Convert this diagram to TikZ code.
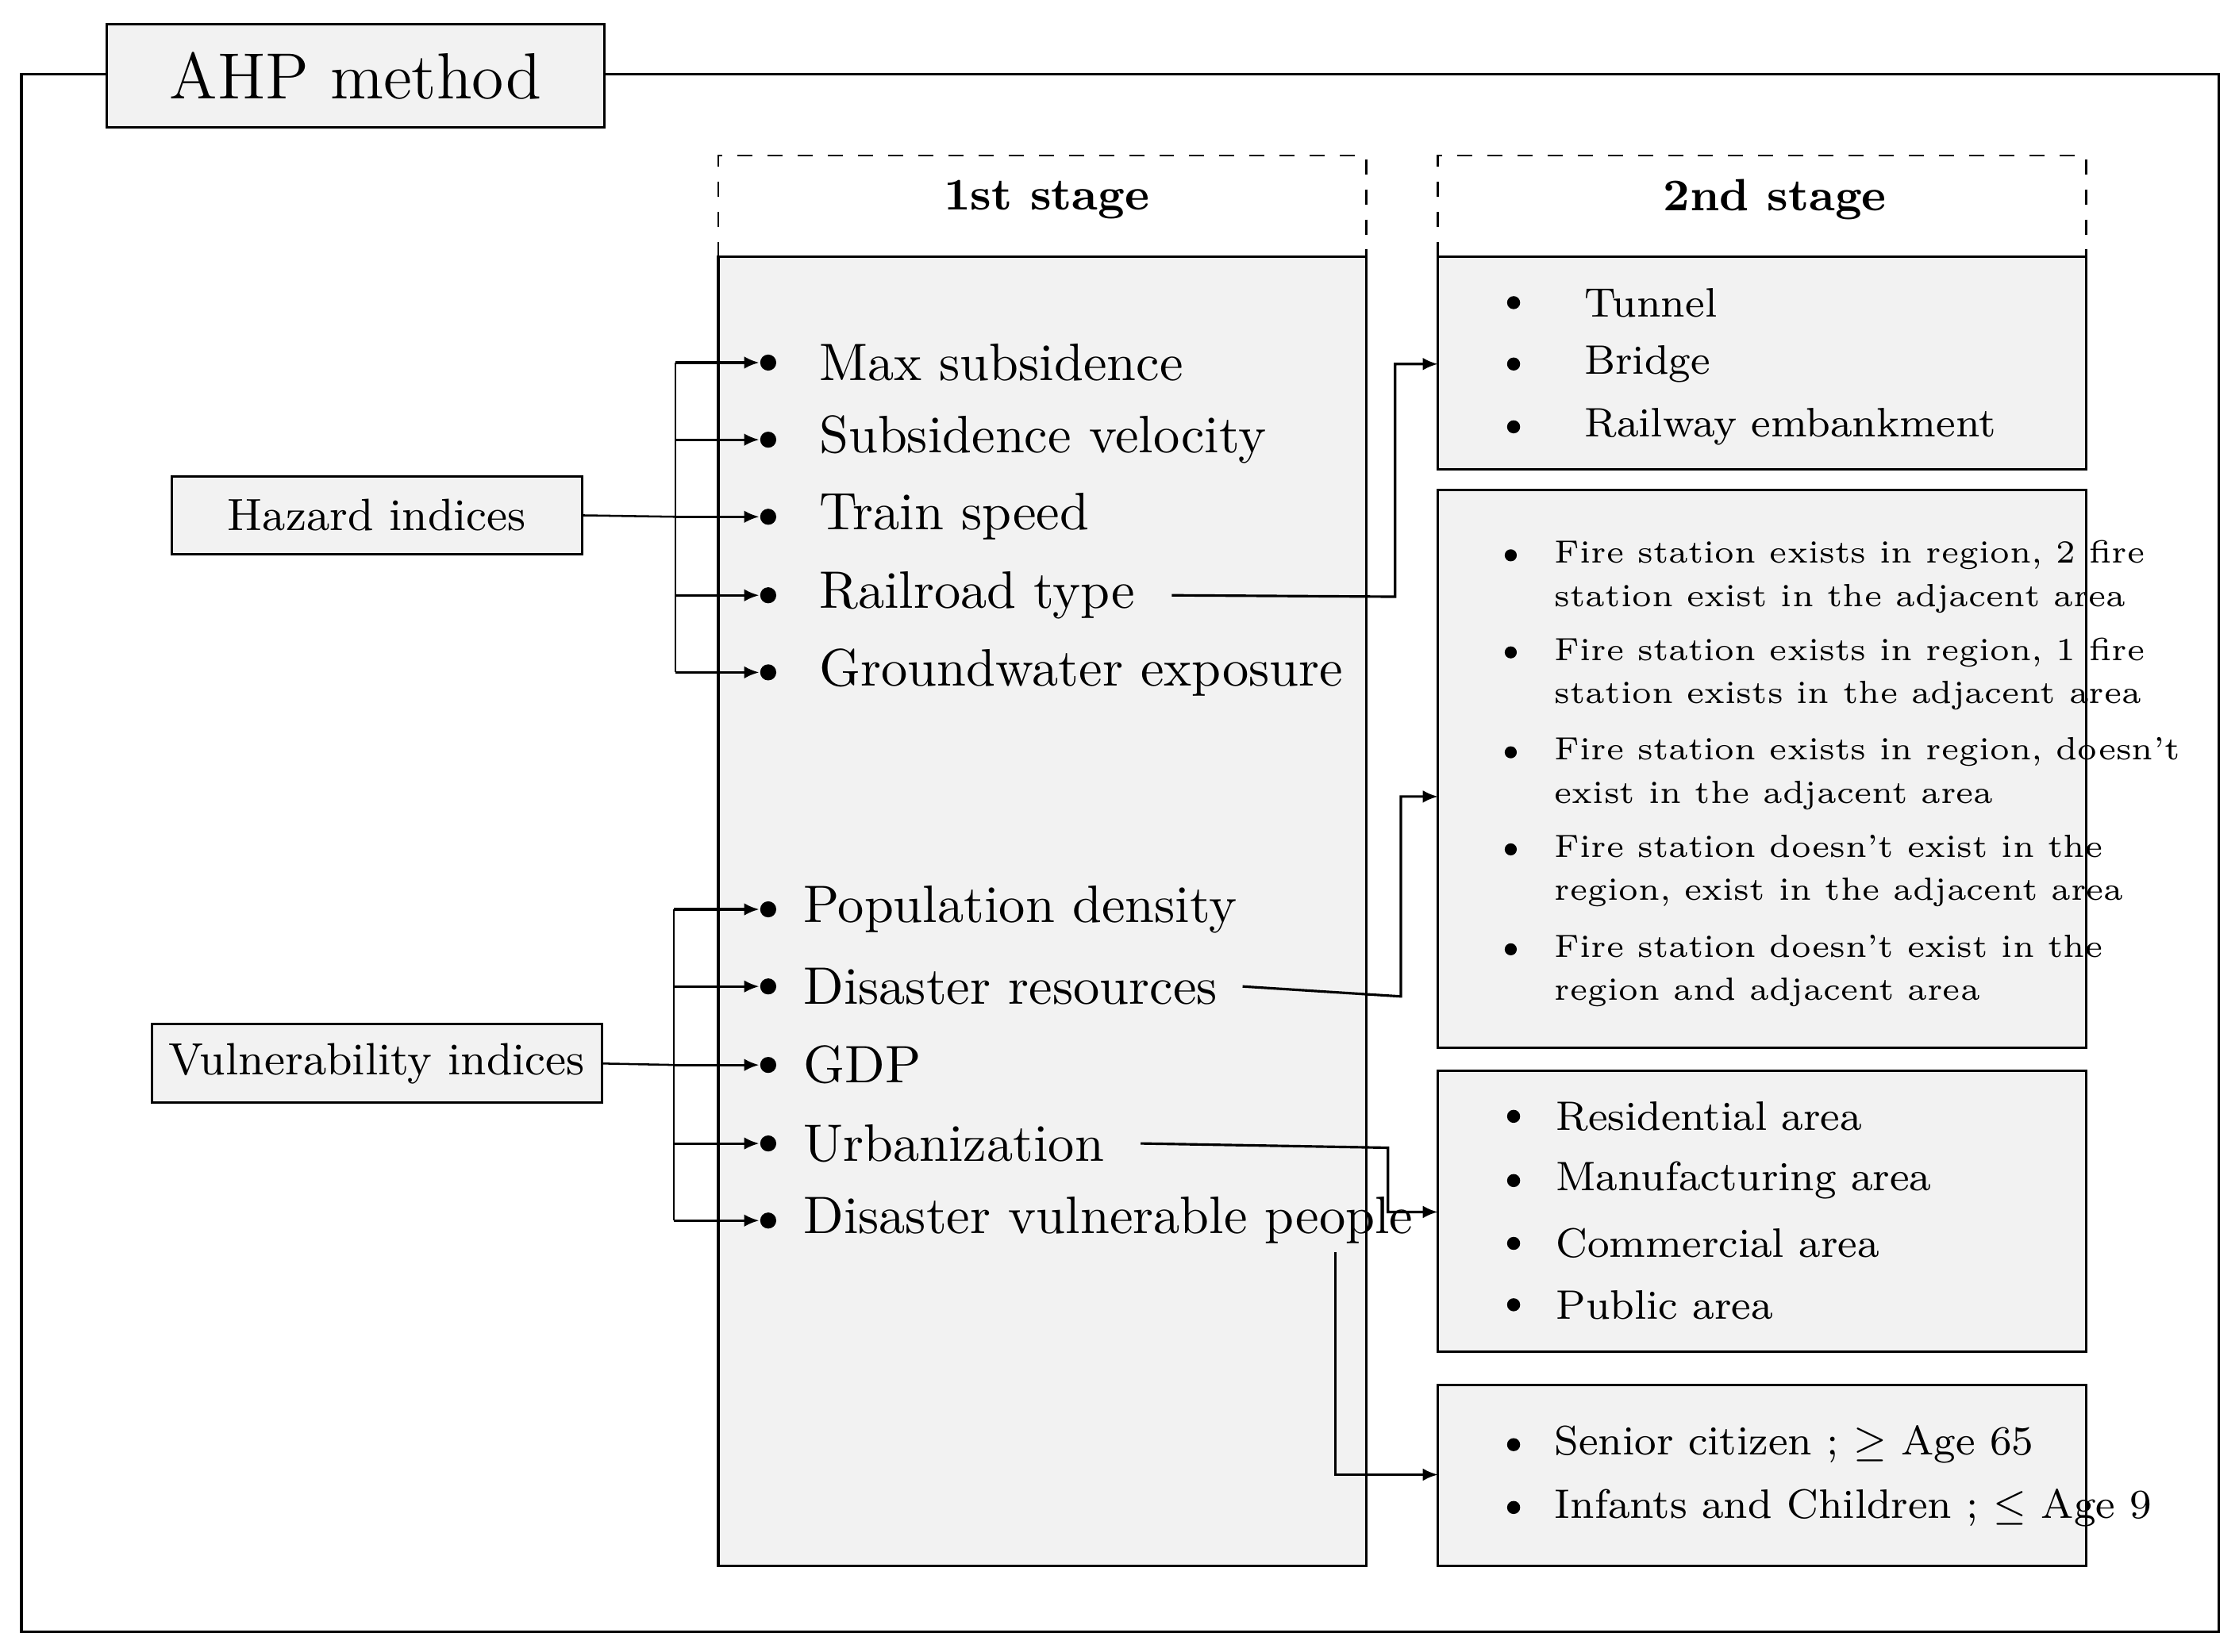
\documentclass[tikz,border=0pt]{standalone}
\usepackage{amssymb}
\usetikzlibrary{arrows.meta}
\definecolor{boxgray}{RGB}{242,242,242}
\tikzset{
  panel/.style={draw, fill=boxgray, line width=0.5pt},
  header/.style={draw, dashed, line width=0.4pt},
  dot/.style={circle, fill=black, inner sep=0pt, minimum size=3.2pt},
  item/.style={anchor=west, inner sep=0pt, font=\fontsize{10.5}{12}\selectfont},
  small/.style={anchor=west, inner sep=0pt, font=\fontsize{8.2}{10}\selectfont},
  tiny2/.style={anchor=west, inner sep=0pt, align=left, font=\fontsize{6.4}{8.6}\selectfont},
  link/.style={line width=0.5pt, -{Latex[length=3pt,width=2.5pt]}}
}
\begin{document}
\begin{tikzpicture}[x=0.01cm, y=-0.01cm]
\useasboundingbox (0,0) rectangle (1568,1157);
% Frame and title
\draw[line width=0.5pt] (423,52) -- (1554,52) -- (1554,1143) -- (15,1143) -- (15,52) -- (75,52);
\node[panel, minimum width=3.48cm, minimum height=0.72cm, font=\fontsize{13}{15}\selectfont] (title) at (249,53) {AHP method};

% Stage boxes
\draw[header] (503,180) -- (503,109) -- (957,109) -- (957,180);
\draw[header] (1007,180) -- (1007,109) -- (1461,109) -- (1461,180);
\node[font=\fontsize{9}{11}\selectfont\bfseries] (s1) at (733,140) {1st stage};
\node[font=\fontsize{9}{11}\selectfont\bfseries] (s2) at (1243,140) {2nd stage};
\draw[panel] (503,180) rectangle (957,1097);
\draw[panel] (1007,180) rectangle (1461,329);
\draw[panel] (1007,343) rectangle (1461,734);
\draw[panel] (1007,750) rectangle (1461,947);
\draw[panel] (1007,970) rectangle (1461,1097);

% Index boxes
\node[panel, minimum width=2.87cm, minimum height=0.54cm, font=\fontsize{9}{11}\selectfont] (haz) at (264,361) {Hazard indices};
\node[panel, minimum width=2.87cm, minimum height=0.55cm, font=\fontsize{9}{11}\selectfont] (vul) at (264,745) {Vulnerability indices};

% Hazard items
\foreach \y/\t/\n in {254/Max subsidence/h1, 308/Subsidence velocity/h2, 362/Train speed/h3, 417/Railroad type/h4, 471/Groundwater exposure/h5}{
  \node[dot] (\n) at (538,\y) {};
  \node[item] (\n t) at (573,\y) {\t};
  \coordinate (\n b) at (473,\y);
  \draw[link] (\n b) -- (\n);
}
\draw (h1b) -- (h5b);
\draw (haz.east) -- (h3b);

% Vulnerability items
\foreach \y/\t/\n in {637/Population density/v1, 691/Disaster resources/v2, 746/GDP/v3, 801/Urbanization/v4, 855/Disaster vulnerable people/v5}{
  \node[dot] (\n) at (538,\y) {};
  \node[item] (\n t) at (562,\y) {\t};
  \coordinate (\n b) at (472,\y);
  \draw[link] (\n b) -- (\n);
}
\draw (v1b) -- (v5b);
\draw (vul.east) -- (v3b);

% Second stage lists
\foreach \y/\t in {212/Tunnel, 255/Bridge, 299/Railway embankment}{
  \node[dot, minimum size=2.6pt] at (1060,\y) {};
  \node[small] at (1109,\y) {\t};
}
\foreach \y/\t in {404/{Fire station exists in region, 2 fire\\station exist in the adjacent area},
                   472/{Fire station exists in region, 1 fire\\station exists in the adjacent area},
                   542/{Fire station exists in region, doesn't\\exist in the adjacent area},
                   610/{Fire station doesn't exist in the\\region, exist in the adjacent area},
                   680/{Fire station doesn't exist in the\\region and adjacent area}}{
  \node[dot, minimum size=2.4pt] at (1058,\y-15) {};
  \node[tiny2] at (1088,\y) {\t};
}
\foreach \y/\t in {782/Residential area, 827/Manufacturing area, 871/Commercial area, 914/Public area}{
  \node[dot, minimum size=2.6pt] at (1060,\y) {};
  \node[small] at (1089,\y) {\t};
}
\foreach \y/\t in {1012/{Senior citizen ; $\geq$ Age 65}, 1056/{Infants and Children ; $\leq$ Age 9}}{
  \node[dot, minimum size=2.6pt] at (1060,\y) {};
  \node[small] at (1088,\y) {\t};
}

% Connectors to second stage
\coordinate (c1) at (1007,255);
\coordinate (c2) at (1007,558);
\coordinate (c3) at (1007,849);
\coordinate (c4) at (1007,1033);
\draw[link] ([xshift=0.25cm]h4t.east) -- (977,418) -- (977,255) -- (c1);
\draw[link] ([xshift=0.17cm]v2t.east) -- (981,698) -- (981,558) -- (c2);
\draw[link] ([xshift=0.25cm]v4t.east) -- (972,804) -- (972,849) -- (c3);
\draw[link] (935,877) -- (935,1033) -- (c4);
\end{tikzpicture}
\end{document}
